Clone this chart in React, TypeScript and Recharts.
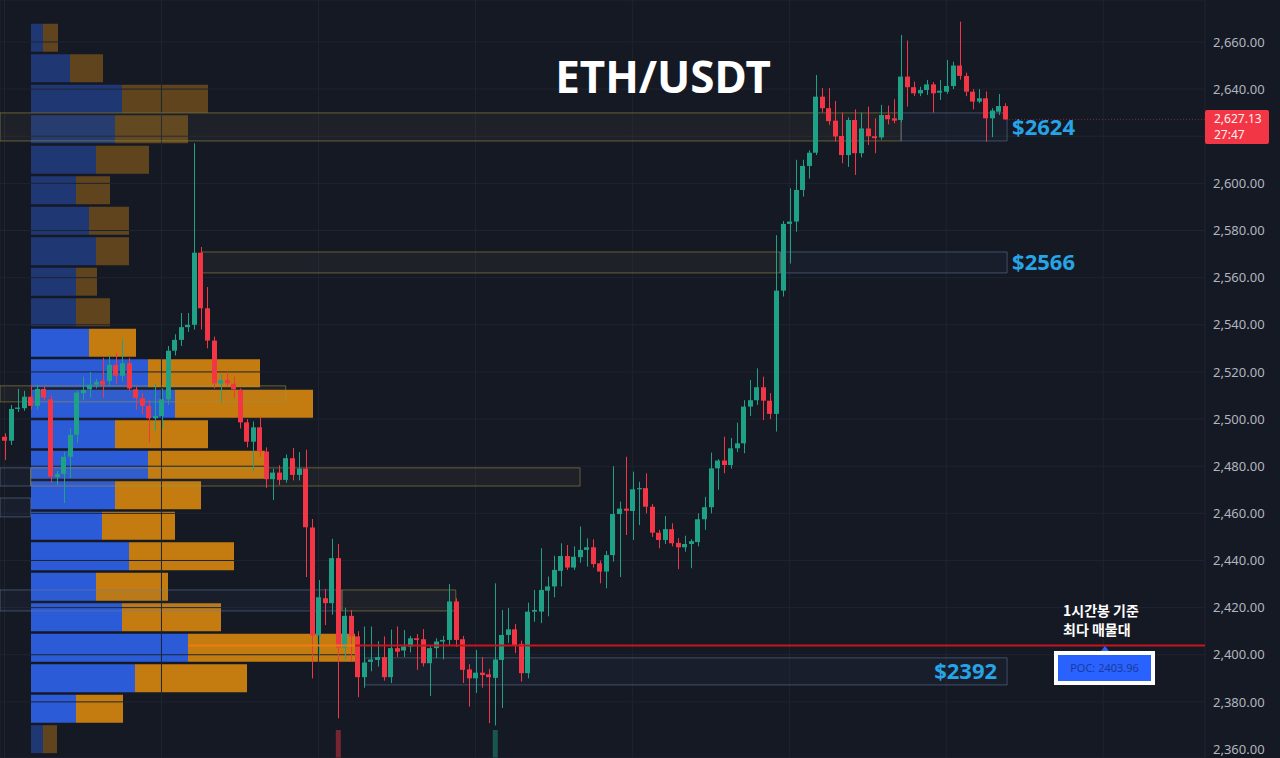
import React from "react";
import {
  ComposedChart, Bar, XAxis, YAxis, CartesianGrid,
  ReferenceArea, ReferenceLine, Cell,
} from "recharts";

// 1h candles, ETH/USDT
const OPEN = [
  2492.5, 2490.8, 2504.3, 2504.6, 2509.5, 2505.6, 2512.8, 2508.4, 2475.4, 2476.7,
  2484, 2493.3, 2511, 2512.6, 2514.6, 2516.2, 2516.2, 2523, 2518.4, 2523.7,
  2512.6, 2508.8, 2505.6, 2500.3, 2501.3, 2508.4, 2529, 2533.6, 2539, 2540,
  2570.6, 2547, 2533.3, 2515, 2516.6, 2515, 2512.4, 2498.6, 2490.4, 2496.5,
  2486.2, 2474.5, 2477.3, 2474.2, 2483.4, 2476.3, 2479, 2454, 2408.2, 2424,
  2421.9, 2441, 2403, 2416.5, 2407.8, 2390.5, 2397, 2397.8, 2399, 2390.5,
  2402.8, 2401.8, 2403.5, 2407, 2406.6, 2396.4, 2402.8, 2405.6, 2406.3, 2422.6,
  2406.6, 2393.8, 2390, 2392.4, 2391.7, 2390.2, 2397.8, 2408.4, 2410.8, 2404.6,
  2392.2, 2418.3, 2418.3, 2427.2, 2429, 2435.6, 2441.9, 2437, 2441.4, 2444.5,
  2445.6, 2438.8, 2435.3, 2442.3, 2459.7, 2462, 2461, 2470.2, 2470.7, 2462.8,
  2451.8, 2448.7, 2453.3, 2447.5, 2445.6, 2447, 2447.8, 2457.5, 2462.6, 2479.1,
  2482.4, 2480.5, 2487.6, 2489.7, 2505.3, 2508, 2513.5, 2507.8, 2502.2, 2554.5,
  2582.8, 2583.8, 2597.2, 2607.4, 2613, 2636.8, 2631.9, 2626.6, 2620.1, 2612,
  2626.9, 2612.8, 2623.3, 2620, 2619.5, 2629, 2627.6, 2626.9, 2645.3, 2640.8,
  2638.2, 2639.6, 2642, 2638.5, 2638.9, 2641.3, 2650, 2645.6, 2638.9, 2634.7,
  2636.1, 2627.6, 2630.4, 2632.8,
];
const HIGH = [
  2494, 2506, 2512.8, 2512, 2514, 2514.5, 2514, 2510, 2478, 2486,
  2496, 2512, 2518, 2520, 2517, 2526, 2527, 2528, 2534, 2526,
  2514, 2511, 2508, 2515, 2513, 2531, 2536, 2545, 2545, 2617,
  2573, 2556, 2535, 2519, 2520, 2518, 2513, 2500, 2499, 2501,
  2488, 2479, 2480.4, 2485, 2487.7, 2486, 2487, 2457.6, 2431.7, 2428,
  2449.2, 2447, 2420, 2419, 2410, 2412, 2412, 2405.8, 2407.8, 2410.7,
  2412, 2410.5, 2408, 2408.8, 2410.9, 2404, 2407, 2408, 2430, 2424,
  2408, 2396, 2402, 2399, 2394, 2430.3, 2419, 2419.8, 2413, 2406,
  2422.1, 2427.5, 2445.2, 2433.2, 2442, 2447.3, 2446.6, 2446, 2454.4, 2449.4,
  2449, 2440, 2444, 2480, 2465, 2484, 2477.7, 2473.4, 2477, 2464,
  2453, 2458.9, 2455.8, 2449.5, 2450.5, 2449, 2460, 2467, 2485.8, 2483,
  2492.5, 2492, 2498.5, 2508, 2516.6, 2521.5, 2518, 2511, 2578, 2584,
  2597.9, 2610, 2610, 2614, 2646, 2640.4, 2640.4, 2635, 2630, 2628,
  2631.4, 2630, 2632.6, 2627.6, 2633.3, 2633, 2635.7, 2663, 2660.6, 2643.2,
  2641, 2643.9, 2643, 2643.9, 2652.4, 2651.6, 2668.6, 2647, 2640, 2640,
  2639, 2631.9, 2637.9, 2634,
];
const LOW = [
  2482.7, 2489, 2503, 2503.5, 2504, 2504, 2508, 2473, 2472, 2464.4,
  2475, 2490, 2508, 2509, 2513, 2509, 2514, 2515, 2516, 2512,
  2504, 2502, 2490, 2495, 2496, 2506, 2527, 2531, 2537, 2538,
  2538, 2530, 2513, 2507, 2514, 2509, 2496, 2488, 2478, 2484,
  2470.8, 2465.7, 2472, 2473, 2474, 2474, 2433, 2390, 2400, 2412.6,
  2417, 2373, 2398, 2397, 2382, 2386, 2393, 2395, 2389, 2388,
  2399, 2399, 2401, 2393.6, 2395, 2382.5, 2398.6, 2398, 2404, 2403.3,
  2388, 2378, 2383.8, 2386, 2371, 2370, 2377.4, 2405, 2400.7, 2388.6,
  2390, 2414, 2413.4, 2416.3, 2424.4, 2429, 2436, 2436, 2439, 2437.4,
  2437, 2430.3, 2428.2, 2439.5, 2433, 2450.8, 2448.7, 2455, 2460, 2450,
  2445.2, 2447, 2446, 2436.3, 2443.7, 2436.7, 2446, 2453, 2460, 2470,
  2477, 2479, 2486, 2485.5, 2501.3, 2506, 2499.6, 2500, 2494.7, 2552,
  2566, 2579.5, 2594.4, 2602, 2612, 2630, 2624.8, 2617.7, 2608.5, 2607,
  2603.6, 2611, 2616.3, 2612.8, 2618.5, 2625, 2625.5, 2626, 2632.6, 2637,
  2637, 2637.5, 2630, 2635.4, 2638, 2640, 2644, 2637, 2631.4, 2634,
  2617.7, 2619.6, 2629, 2627,
];
const CLOSE = [
  2490.8, 2504.3, 2504.9, 2509.5, 2505.6, 2512.8, 2509.1, 2475.6, 2476.7, 2484,
  2493.3, 2511.2, 2512.4, 2514.6, 2515.8, 2514.5, 2523, 2518.4, 2523.7, 2513,
  2509, 2505.6, 2500.3, 2501.3, 2508.4, 2529, 2533.6, 2539, 2540, 2570.6,
  2547, 2533.3, 2515.2, 2516.6, 2515.2, 2512.6, 2498.6, 2490.4, 2496.5, 2486.2,
  2474.5, 2477.3, 2474.2, 2483.4, 2476.3, 2479, 2454.1, 2408.2, 2424.4, 2421.9,
  2441, 2403, 2416.5, 2407.8, 2390.5, 2396.7, 2398, 2399, 2390.5, 2402.8,
  2401.3, 2403.5, 2407, 2406.3, 2396.4, 2402.8, 2405.6, 2406.3, 2422.6, 2406.3,
  2393.6, 2390, 2392.4, 2391.4, 2390.5, 2398, 2408.4, 2410.8, 2404, 2392.2,
  2418.3, 2419, 2427.5, 2429, 2436, 2441.9, 2437, 2441.6, 2444.5, 2445.6,
  2438.5, 2435.3, 2442.3, 2459.7, 2462, 2461.1, 2470.2, 2470.7, 2462.8, 2451.8,
  2448.7, 2453.3, 2447.3, 2445.6, 2447, 2448.2, 2457.5, 2462.6, 2479.1, 2482.4,
  2480.5, 2487.6, 2489.7, 2505.3, 2508, 2513.5, 2507.8, 2502.2, 2554.5, 2582.8,
  2583.8, 2597.2, 2607.4, 2613, 2636.8, 2631.9, 2626.4, 2619.9, 2612, 2626.9,
  2612.8, 2623.3, 2620, 2619.2, 2629, 2627.2, 2626.6, 2645.3, 2640.8, 2638.2,
  2639.6, 2642, 2638.2, 2639.3, 2641.3, 2650, 2645.6, 2638.9, 2634.7, 2636.1,
  2627.6, 2630.9, 2632.8, 2627.13,
];

// only two volume bars reach into the visible area
const VOL_INDEX = [51, 75];
const VOL_VALUE = [1, 1];

// volume profile rows (price = row centre)
const PROFILE_PRICE = [
  2661.7, 2648.8, 2635.8, 2622.9, 2609.9, 2597.0, 2584.1, 2571.1, 2558.2, 2545.2,
  2532.3, 2519.4, 2506.4, 2493.5, 2480.5, 2467.6, 2454.7, 2441.7, 2428.8, 2415.8,
  2402.9, 2390.0, 2377.0, 2364.1,
];
const PROFILE_BUY = [12, 39, 91, 84, 65, 45, 58, 65, 45, 45, 58, 117, 144, 84, 117, 84, 71, 98, 65, 91, 157, 104, 45, 12];
const PROFILE_SELL = [15, 33, 86, 73, 53, 34, 40, 33, 21, 34, 47, 112, 138, 93, 117, 86, 73, 105, 72, 99, 167, 112, 47, 14];
const VALUE_AREA = [10, 22]; // row indexes inside the value area

const PRICE_TICKS = [2360, 2380, 2400, 2420, 2440, 2460, 2480, 2500, 2520, 2540, 2560, 2580, 2600, 2620, 2640, 2660];
const DAY_TICKS = [0, 24, 48, 72, 96, 120, 144, 168];

const POC = 2403.96;
const LAST = 2627.13;

const W = 1280;
const H = 758;
const AXIS_W = 75;
const PROFILE_LEFT = 31;
const Y_DOMAIN: [number, number] = [2356.2, 2677.8];
const X_DOMAIN: [number, number] = [-0.69, 183.56];

const UP = "#1fa187";
const DOWN = "#f23645";
const BG = "#151924";

// zones: x in candle index, y in price
const ZONES = [
  { x1: X_DOMAIN[0], x2: 137.1, y1: 2618.0, y2: 2629.9, kind: "supply" },
  { x1: 137.1, x2: 153.3, y1: 2618.0, y2: 2629.9, kind: "level", label: "$2624", pos: "right" },
  { x1: 30.2, x2: 118.6, y1: 2562.0, y2: 2570.9, kind: "supply" },
  { x1: 118.6, x2: 153.3, y1: 2562.0, y2: 2570.9, kind: "level", label: "$2566", pos: "right" },
  { x1: X_DOMAIN[0], x2: 43.0, y1: 2507.3, y2: 2514.1, kind: "supply" },
  { x1: X_DOMAIN[0], x2: 4, y1: 2471.6, y2: 2479.3, kind: "level" },
  { x1: 4, x2: 88.0, y1: 2471.6, y2: 2479.3, kind: "supply" },
  { x1: X_DOMAIN[0], x2: 4, y1: 2458.5, y2: 2466.5, kind: "level" },
  { x1: X_DOMAIN[0], x2: 51.6, y1: 2418.6, y2: 2427.5, kind: "level" },
  { x1: 51.6, x2: 69.0, y1: 2418.6, y2: 2427.5, kind: "supply" },
  { x1: 55.1, x2: 153.3, y1: 2387.2, y2: 2398.7, kind: "level", label: "$2392", pos: "insideRight" },
];

const candles = OPEN.map((o, i) => {
  const v = VOL_INDEX.indexOf(i);
  return {
    i,
    open: o,
    high: HIGH[i],
    low: LOW[i],
    close: CLOSE[i],
    range: [LOW[i], HIGH[i]],
    vol: v >= 0 ? VOL_VALUE[v] : undefined,
  };
});

const profile = PROFILE_PRICE.map((p, k) => ({
  price: p,
  buy: PROFILE_BUY[k],
  sell: PROFILE_SELL[k],
  inVA: k >= VALUE_AREA[0] && k <= VALUE_AREA[1],
}));

const fmt = (v: number) =>
  v.toLocaleString("en-US", { minimumFractionDigits: 2, maximumFractionDigits: 2 });

// the 2,620 label sits behind the last-price tag
const tickFmt = (v: number) => (Math.abs(v - LAST) < 12 ? "" : fmt(v));

const Candle = (props: any) => {
  const { x, y, width, height, payload } = props;
  if (!payload || x == null) return null;
  const { open, close, high, low } = payload;
  const top = Math.min(y, y + height);
  const h = Math.abs(height);
  const k = h / (high - low || 1);
  const py = (p: number) => top + (high - p) * k;
  const color = close >= open ? UP : DOWN;
  const cx = Math.round(x + width / 2) + 0.5;
  const bTop = py(Math.max(open, close));
  const bH = Math.max(1, Math.abs(py(open) - py(close)));
  return (
    <g>
      <line x1={cx} x2={cx} y1={py(high)} y2={py(low)} stroke={color} strokeWidth={1} />
      <rect x={Math.round(x)} y={bTop} width={width} height={bH} fill={color} />
    </g>
  );
};

const PriceTag = (props: any) => {
  const vb = props.viewBox || {};
  const x = (vb.x || 0) + (vb.width || 0);
  const y = vb.y || 0;
  return (
    <g>
      <rect x={x} y={y - 9.5} width={64} height={34} fill={DOWN} rx={2} />
      <text x={x + 9} y={y + 3.5} fill="#fff0f0" fontSize={12}>{fmt(LAST)}</text>
      <text x={x + 9} y={y + 19.5} fill="#fff0f0" fontSize={12}>27:47</text>
    </g>
  );
};

const layer = (z: number): React.CSSProperties => ({ position: "absolute", left: 0, top: 0, zIndex: z });

export default function App() {
  return (
    <div style={{ position: "absolute", left: 0, top: 0, width: W, height: H, background: BG, overflow: "hidden", fontFamily: "'Noto Sans', sans-serif" }}>
      {/* volume profile */}
      <div style={layer(0)}>
        <ComposedChart layout="vertical" width={W - AXIS_W} height={H} data={profile} margin={{ top: 0, right: 0, bottom: 0, left: PROFILE_LEFT }}>
          <XAxis type="number" domain={[0, W - AXIS_W - PROFILE_LEFT]} allowDataOverflow hide />
          <YAxis type="number" dataKey="price" domain={Y_DOMAIN} allowDataOverflow reversed hide />
          <Bar dataKey="buy" stackId="v" barSize={28} isAnimationActive={false}>
            {profile.map((r, k) => (
              <Cell key={k} fill={r.inVA ? "#2b5bd7" : "#1f3773"} />
            ))}
          </Bar>
          <Bar dataKey="sell" stackId="v" barSize={28} isAnimationActive={false}>
            {profile.map((r, k) => (
              <Cell key={k} fill={r.inVA ? "#c47c10" : "#5f441e"} />
            ))}
          </Bar>
        </ComposedChart>
      </div>

      {/* volume tips at the bottom */}
      <div style={layer(1)}>
        <ComposedChart width={W - AXIS_W} height={H} data={candles} margin={{ top: 0, right: 0, bottom: 0, left: 0 }}>
          <XAxis dataKey="i" type="number" domain={X_DOMAIN} allowDataOverflow hide />
          <YAxis type="number" domain={[0, 27.07]} allowDataOverflow hide />
          <Bar dataKey="vol" barSize={5} isAnimationActive={false}>
            {candles.map((c, k) => (
              <Cell key={k} fill={c.close >= c.open ? UP : DOWN} fillOpacity={0.45} />
            ))}
          </Bar>
        </ComposedChart>
      </div>

      {/* candles, zones, axis */}
      <div style={layer(2)}>
        <ComposedChart width={W} height={H} data={candles} margin={{ top: 0, right: 0, bottom: 0, left: 0 }}>
          <CartesianGrid stroke="#1f2431" />
          <XAxis dataKey="i" type="number" domain={X_DOMAIN} ticks={DAY_TICKS} allowDataOverflow hide />
          <YAxis
            orientation="right"
            type="number"
            domain={Y_DOMAIN}
            ticks={PRICE_TICKS}
            allowDataOverflow
            width={AXIS_W}
            axisLine={false}
            tickLine={false}
            tick={{ fill: "#b2b5be", fontSize: 13 }}
            tickFormatter={tickFmt}
          />
          {ZONES.map((z, k) => (
            <ReferenceArea
              key={k}
              x1={z.x1}
              x2={z.x2}
              y1={z.y1}
              y2={z.y2}
              fill={z.kind === "supply" ? "rgba(150,140,90,0.14)" : "rgba(70,100,150,0.14)"}
              stroke={z.kind === "supply" ? "rgba(160,150,70,0.55)" : "rgba(110,130,165,0.5)"}
              strokeWidth={1}
              label={z.label ? { value: z.label, position: z.pos as any, fill: "#27a4e6", fontSize: 22, fontWeight: 700, offset: z.pos === "right" ? 5 : 10 } : undefined}
            />
          ))}
          <ReferenceLine segment={[{ x: 28.1, y: POC }, { x: 53.6, y: POC }]} stroke="#ee7c12" strokeWidth={2} />
          <ReferenceLine segment={[{ x: 53.6, y: POC }, { x: X_DOMAIN[1], y: POC }]} stroke="#c8141f" strokeWidth={2} />
          <ReferenceLine segment={[{ x: 153.6, y: LAST }, { x: X_DOMAIN[1], y: LAST }]} stroke={DOWN} strokeOpacity={0.5} strokeDasharray="1 2" />
          <ReferenceLine y={LAST} stroke="none" label={<PriceTag />} />
          <Bar dataKey="range" barSize={5} shape={Candle} isAnimationActive={false} />
        </ComposedChart>
      </div>

      {/* title and annotations */}
      <svg width={W} height={H} style={{ ...layer(3), pointerEvents: "none" }}>
        <text x={663} y={93} textAnchor="middle" fill="#ffffff" fontSize={44} fontWeight={700} fontFamily="'Noto Sans', sans-serif">
          ETH/USDT
        </text>
        <text x={1063} y={616} fill="#ffffff" fontSize={14} fontWeight={700} fontFamily="'Noto Sans CJK KR', sans-serif">
          1시간봉 기준
        </text>
        <text x={1063} y={635} fill="#ffffff" fontSize={14} fontWeight={700} fontFamily="'Noto Sans CJK KR', sans-serif">
          최다 매물대
        </text>
        <path d="M1101 651 L1105 646 L1109 651 Z" fill="#2962ff" />
        <rect x={1056} y={653} width={97} height={30} fill="#2962ff" stroke="#ffffff" strokeWidth={4} />
        <text x={1104.5} y={671.5} textAnchor="middle" fill="#1c3a9c" fontSize={11}>
          POC: 2403.96
        </text>
      </svg>
    </div>
  );
}
